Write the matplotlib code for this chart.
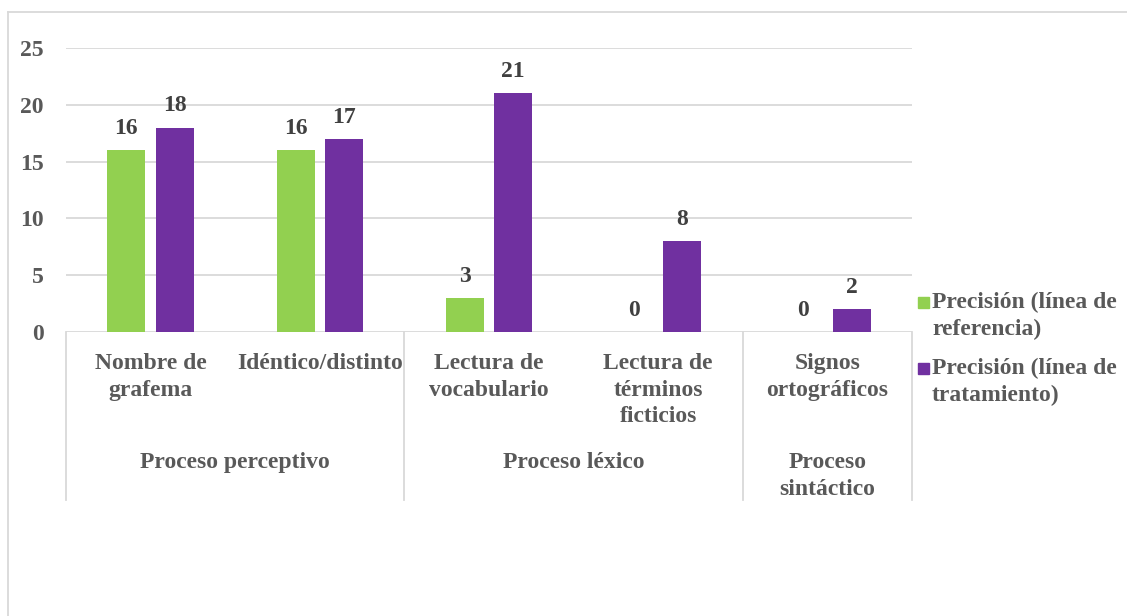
import matplotlib
matplotlib.use('Agg')
import matplotlib.pyplot as plt
import matplotlib.transforms as mtransforms
from matplotlib.lines import Line2D
from matplotlib.patches import Rectangle

plt.rcParams['font.family'] = 'Liberation Serif'
plt.rcParams['font.weight'] = 'bold'

subcategories = ['Nombre de\ngrafema', 'Idéntico/distinto', 'Lectura de\nvocabulario',
                 'Lectura de\ntérminos\nficticios', 'Signos\nortográficos']
groups = ['Proceso perceptivo', 'Proceso léxico', 'Proceso\nsintáctico']
group_spans = [(0, 1), (2, 3), (4, 4)]
referencia = [16, 16, 3, 0, 0]
tratamiento = [18, 17, 21, 8, 2]
series_names = ['Precisión (línea de\nreferencia)', 'Precisión (línea de\ntratamiento)']
colors = ['#92d050', '#7030a0']
yticks = [0, 5, 10, 15, 20, 25]

W, H = 1127, 616
FS = 17
LS = 1.35
fig = plt.figure(figsize=(W / 100, H / 100), dpi=100)
ax = fig.add_axes([66 / W, 1 - 332 / H, 846 / W, 284 / H])

grid_c = '#d9d9d9'
text_c = '#595959'
label_c = '#404040'

x = list(range(len(subcategories)))
off, bw = 0.143, 0.225
ax.bar([i - off for i in x], referencia, bw, color=colors[0], zorder=3)
ax.bar([i + off for i in x], tratamiento, bw, color=colors[1], zorder=3)

for vals, sign in [(referencia, -1), (tratamiento, 1)]:
    for i, v in enumerate(vals):
        ax.annotate(str(v), (i + sign * off, v), xytext=(0, 8), textcoords='offset points',
                    ha='center', va='bottom', fontsize=FS, color=label_c)

ax.set_xlim(-0.5, len(subcategories) - 0.5)
ax.set_ylim(0, 25)
ax.set_yticks(yticks)
ax.set_yticklabels([str(t) for t in yticks], fontsize=FS, color=text_c)
ax.tick_params(axis='y', length=0, pad=16)
ax.set_xticks([])
for s in ax.spines.values():
    s.set_visible(False)
ax.grid(axis='y', color=grid_c, linewidth=1.3, zorder=0)
ax.set_axisbelow(True)

# two-level category axis below the plot
tr = mtransforms.blended_transform_factory(ax.transData, fig.transFigure)
for i, lab in enumerate(subcategories):
    ax.text(i, 1 - 353 / H, lab, transform=tr, ha='center', va='top', fontsize=FS,
            color=text_c, linespacing=LS)
for (a, b), g in zip(group_spans, groups):
    ax.text((a + b) / 2, 1 - 452 / H, g, transform=tr, ha='center', va='top', fontsize=FS,
            color=text_c, linespacing=LS)
for xs in [-0.5, 1.5, 3.5, 4.5]:
    ax.add_line(Line2D([xs, xs], [1 - 332 / H, 1 - 500 / H], transform=tr, color=grid_c,
                       linewidth=1.3, clip_on=False))

# chart frame
fig.add_artist(Line2D([8 / W, 1], [1 - 12 / H, 1 - 12 / H], color=grid_c, linewidth=1.3))
fig.add_artist(Line2D([8 / W, 8 / W], [0, 1 - 12 / H], color=grid_c, linewidth=1.3))

# legend
leg_y = [302, 368]
for c, name, y in zip(colors, series_names, leg_y):
    fig.add_artist(Rectangle((918 / W, 1 - (y + 6) / H), 11 / W, 11 / H, color=c,
                             transform=fig.transFigure))
    fig.text(932 / W, 1 - (y - 10) / H, name, ha='left', va='top', fontsize=FS,
             color=text_c, linespacing=LS)

fig.savefig('out.png', dpi=100)
